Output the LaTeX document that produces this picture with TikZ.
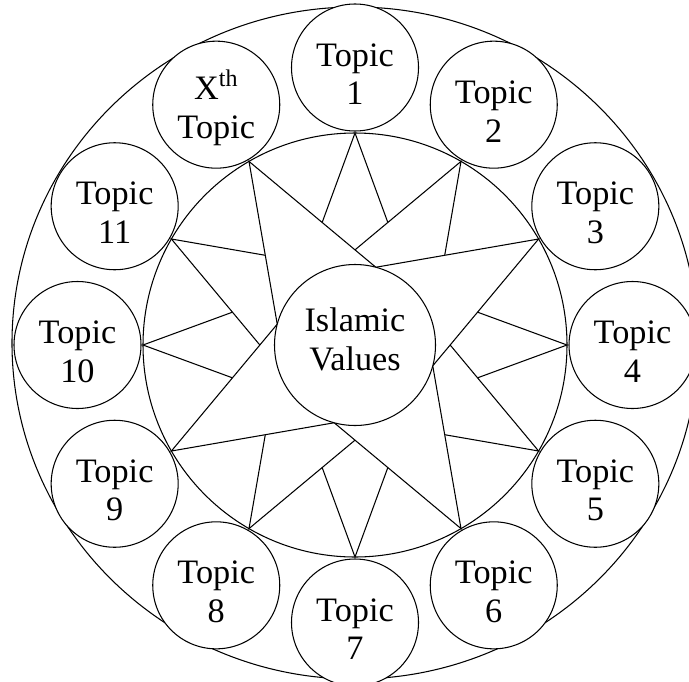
\documentclass[tikz,border=0pt]{standalone}
\usepackage{fontspec}
\setmainfont{Liberation Serif}
\newcommand{\up}{\rule{0pt}{20.5pt}}
\newcommand{\dn}{\rule[-6.8pt]{0pt}{0pt}}
\begin{document}
\begin{tikzpicture}[line width=0.6pt,
    every node/.style={font=\fontsize{19.5}{22}\selectfont},
    topic/.style={circle, draw, fill=white, align=center, inner sep=0pt,
                  minimum size=2.54cm},
    hub/.style={circle, draw, fill=white, align=center, inner sep=0pt,
                minimum size=3.22cm},
    starpath/.style={draw, fill=white}]
  \useasboundingbox (-7.1,-6.72) rectangle (6.68,6.9);
  % outer and inner rings
  \draw (0,0.04) ellipse [x radius=6.86, y radius=6.72];
  \draw (0,0) circle [radius=4.24];
  % three four-pointed stars, the last one on top
  \foreach \a in {0,60,30}
    \draw[starpath] (\a:4.24) -- (\a+45:1.61) -- (\a+90:4.24) -- (\a+135:1.61)
      -- (\a+180:4.24) -- (\a+225:1.61) -- (\a+270:4.24) -- (\a+315:1.61) -- cycle;
  \node[hub] (iv) at (0,0) {Islamic\\Values\dn};
  \foreach \k in {1,...,11}
    \node[topic] (t\k) at (120-30*\k:5.55) {\up Topic\\\k};
  \node[topic] (tx) at (120:5.55) {\up X\textsuperscript{th}\\Topic};
\end{tikzpicture}
\end{document}
